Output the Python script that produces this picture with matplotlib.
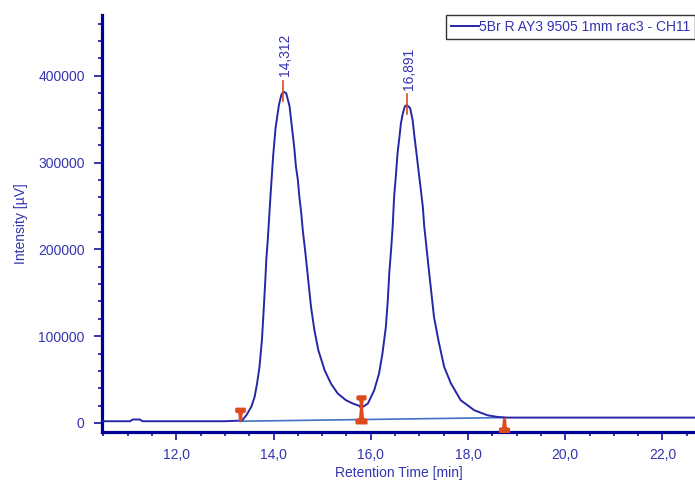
import matplotlib
matplotlib.use("Agg")
import matplotlib.pyplot as plt
from matplotlib.path import Path
from matplotlib.ticker import MultipleLocator, FuncFormatter

# chromatogram trace (time [min], intensity [uV])
time = [10.48, 11.05, 11.10, 11.25, 11.30, 13.00, 13.35, 13.44, 13.54, 13.61,
        13.66, 13.71, 13.76, 13.80, 13.83, 13.85, 13.88, 13.94, 13.99, 14.04,
        14.11, 14.16, 14.20, 14.26, 14.33, 14.36, 14.40, 14.43, 14.46, 14.50,
        14.53, 14.57, 14.60, 14.64, 14.67, 14.72, 14.77, 14.84, 14.92, 15.05,
        15.18, 15.32, 15.49, 15.63, 15.76, 15.80, 15.94, 16.07, 16.17, 16.24,
        16.31, 16.35, 16.38, 16.42, 16.45, 16.48, 16.52, 16.55, 16.59, 16.62,
        16.66, 16.70, 16.74, 16.81, 16.86, 16.89, 16.94, 16.98, 17.03, 17.07,
        17.10, 17.13, 17.18, 17.24, 17.30, 17.39, 17.51, 17.65, 17.85, 18.13,
        18.40, 18.61, 18.80, 22.70]
intensity = [2000, 2000, 4000, 4000, 2000, 2000, 2800, 8900, 18500, 30000,
             45400, 64600, 95400, 133800, 164600, 187700, 210700, 264600, 306800, 339600,
             366400, 378000, 381800, 379900, 364500, 349100, 329900, 314500, 295300, 279900,
             260700, 241500, 222300, 203000, 187700, 160800, 133800, 106900, 83900, 60800,
             45400, 33900, 26200, 22400, 19800, 17200, 22400, 37700, 57000, 80000,
             110700, 141500, 172300, 201500, 226100, 260700, 287700, 310700, 329900, 345300,
             356900, 364500, 366400, 362600, 349100, 333800, 310700, 291500, 268400, 249100,
             226100, 210700, 183900, 153100, 122300, 95400, 64600, 45400, 26200, 14600,
             8900, 6900, 6200, 6200]

# integration baseline and peak events
base_t = [13.30, 18.74]
base_i = [2000, 6200]
peak_t = [14.20, 16.74]
peak_i = [381800, 366400]
peak_labels = ["14,312", "16,891"]
valley_t, valley_i = 15.80, 17200

NAVY = "#000099"
TXT = "#3434B0"
TRACE = "#2626A6"
BASE = "#4472C4"
RED = "#DD4A1E"

plt.rcParams["font.family"] = ["Liberation Sans", "DejaVu Sans"]
plt.rcParams["font.size"] = 10

# nail-shaped markers, tip at the data point
down_nail = Path([(-0.35, 1), (0.35, 1), (0.35, 0.72), (0.12, 0.66), (0.06, 0),
                  (-0.06, 0), (-0.12, 0.66), (-0.35, 0.72), (-0.35, 1)])
up_nail = Path([(x, -y) for x, y in down_nail.vertices])

fig = plt.figure(figsize=(6.95, 4.82), dpi=100)
ax = fig.add_axes([102 / 695, 50 / 482, 593 / 695, 417 / 482])

ax.plot(time, intensity, color=TRACE, lw=1.4, zorder=3,
        label="5Br R AY3 9505 1mm rac3 - CH11")
ax.plot(base_t, base_i, color=BASE, lw=1.2, zorder=2)

for t, i in zip(peak_t, peak_i):
    ax.plot([t, t], [i - 11000, i + 12500], color=RED, lw=1.2, zorder=4)
for t, i, lab in zip(peak_t, peak_i, peak_labels):
    ax.annotate(lab, xy=(t, i), xytext=(1.5, 11), textcoords="offset points",
                rotation=90, ha="center", va="bottom", color=TXT)

ax.plot([base_t[0]], [base_i[0]], marker=down_nail, ms=19, color=RED, ls="none", zorder=5)
ax.plot([valley_t], [valley_i], marker=down_nail, ms=18, color=RED, ls="none", zorder=5)
ax.plot([valley_t], [valley_i], marker=up_nail, ms=22, color=RED, ls="none", zorder=5)
ax.plot([base_t[1]], [base_i[1]], marker=up_nail, ms=20, color=RED, ls="none", zorder=5)

ax.set_xlim(10.47, 22.67)
ax.set_ylim(-10400, 470000)

for s in ("top", "right"):
    ax.spines[s].set_visible(False)
for s in ("left", "bottom"):
    ax.spines[s].set_color(NAVY)
    ax.spines[s].set_linewidth(2.3)

ax.xaxis.set_major_locator(MultipleLocator(2))
ax.xaxis.set_minor_locator(MultipleLocator(0.5))
ax.yaxis.set_major_locator(MultipleLocator(100000))
ax.yaxis.set_minor_locator(MultipleLocator(20000))
ax.xaxis.set_major_formatter(FuncFormatter(lambda v, p: f"{v:.1f}".replace(".", ",")))
ax.yaxis.set_major_formatter(FuncFormatter(lambda v, p: f"{v:.0f}"))
ax.tick_params(which="major", length=5.5, width=1.1, color=NAVY, labelcolor=TXT)
ax.tick_params(which="minor", length=2.8, width=1.1, color=NAVY)
ax.tick_params(axis="y", which="major", pad=7)
ax.tick_params(axis="x", which="major", pad=6)

ax.set_xlabel("Retention Time [min]", color=TXT, labelpad=3)
ax.set_ylabel("Intensity [µV]", color=TXT, labelpad=7)

leg = ax.legend(loc="upper right", bbox_to_anchor=(1.0, 1.0), borderaxespad=0,
                fancybox=False, frameon=True, handlelength=2.0, handletextpad=0.0,
                borderpad=0.35, labelcolor=TXT)
leg.get_frame().set_edgecolor("black")
leg.get_frame().set_linewidth(1.0)

fig.savefig("out.png", dpi=100)
